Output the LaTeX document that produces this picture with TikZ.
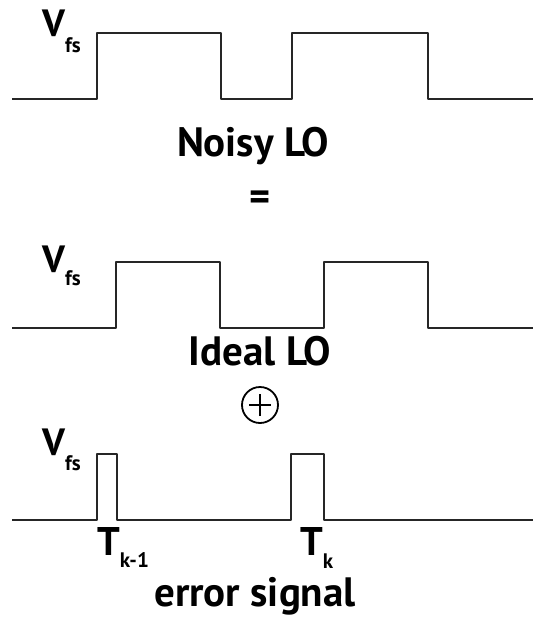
\documentclass[tikz,border=0pt]{standalone}
\usepackage{fontspec}
\setmainfont{PT Sans}
\begin{document}
\begin{tikzpicture}[x=1pt,y=-1pt,
  wave/.style={line width=2pt,draw=black!85,line join=round},
  big/.style={font=\bfseries\fontsize{41}{44}\selectfont,inner sep=0pt,anchor=base},
  vlab/.style={font=\bfseries\fontsize{38}{40}\selectfont,inner sep=0pt,anchor=base west},
  tlab/.style={font=\bfseries\fontsize{40}{44}\selectfont,inner sep=0pt,anchor=base west}]
\useasboundingbox (0,0) rectangle (533,619);
% waveform 1 : noisy LO
\draw[wave] (12,99) -- (97,99) -- (97,33) -- (221,33) -- (221,99) -- (292,99) -- (292,33) -- (428,33) -- (428,99) -- (533,99);
\node[vlab] (v1) at (42,36) {V\raisebox{-16pt}{\fontsize{21}{22}\selectfont fs}};
\node[big] (noisy) at (253,156) {Noisy LO};
\node[inner sep=0pt] (eq) at (260,201) {\bfseries\fontsize{40}{40}\selectfont =};
% waveform 2 : ideal LO
\draw[wave] (12,328) -- (116,328) -- (116,262) -- (220,262) -- (220,328) -- (324,328) -- (324,262) -- (428,262) -- (428,328) -- (533,328);
\node[vlab] (v2) at (42,272) {V\raisebox{-13pt}{\fontsize{21}{22}\selectfont fs}};
\node[big] (ideal) at (260,365) {Ideal LO};
\node[circle,draw,line width=1.8pt,minimum size=36pt,inner sep=0pt] (plus) at (260,405) {};
\draw[line width=2pt] ([xshift=-11pt]plus.center) -- ([xshift=11pt]plus.center);
\draw[line width=2pt] ([yshift=-11pt]plus.center) -- ([yshift=11pt]plus.center);
% waveform 3 : error signal
\draw[wave] (12,520) -- (97,520) -- (97,454) -- (117,454) -- (117,520) -- (291,520) -- (291,454) -- (324,454) -- (324,520) -- (533,520);
\node[vlab] (v3) at (42,455) {V\raisebox{-15pt}{\fontsize{21}{22}\selectfont fs}};
\node[tlab] (tk1) at (97,555) {T\raisebox{-12pt}{\fontsize{21}{22}\selectfont k-1}};
\node[tlab] (tk) at (300,555) {T\raisebox{-13pt}{\fontsize{21}{22}\selectfont k}};
\node[big] (err) at (255,606) {error signal};
\end{tikzpicture}
\end{document}
